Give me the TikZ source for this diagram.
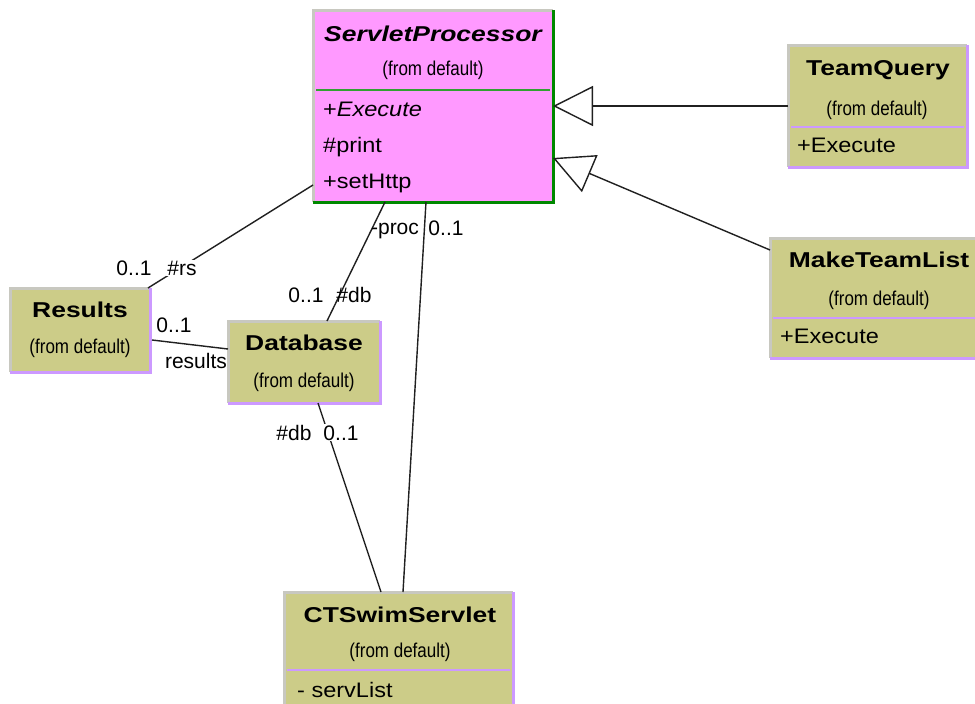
\documentclass[tikz,border=0pt]{standalone}
\usepackage{fontspec}
\setmainfont{Liberation Sans}
\newfontfamily\titlefont[FakeStretch=1.23]{Liberation Sans}
\newfontfamily\narrowfont[FakeStretch=0.85]{Liberation Sans}
\newfontfamily\attrfont[FakeStretch=1.12]{Liberation Sans}
\usetikzlibrary{arrows.meta}
\definecolor{khaki}{HTML}{CCCC88}
\definecolor{pinkfill}{HTML}{FF99FF}
\definecolor{edgegrey}{HTML}{C8C8C0}
\definecolor{edgeviolet}{HTML}{CC99FF}
\definecolor{edgegreen}{HTML}{008800}
\definecolor{linegrey}{HTML}{202020}
\begin{document}
\begin{tikzpicture}[x=1pt,y=-1pt,
  classbox/.style={draw=none,inner sep=0pt,outer sep=0pt,anchor=north west},
  titletext/.style={inner sep=0pt,anchor=base,font=\titlefont\bfseries\fontsize{21.5}{21.5}\selectfont},
  fromtext/.style={inner sep=0pt,anchor=base,font=\narrowfont\fontsize{20}{20}\selectfont},
  attrtext/.style={inner sep=0pt,anchor=base west,font=\attrfont\fontsize{21}{21}\selectfont},
  roletext/.style={inner sep=0pt,anchor=base,font=\fontsize{21}{21}\selectfont},
  rolemask/.style={roletext,fill=white,inner sep=1pt},
  litedge/.style={draw=edgegrey,line width=3pt},
  darkedge/.style={draw=edgeviolet,line width=3pt},
  greenedge/.style={draw=edgegreen,line width=3pt},
  sepviolet/.style={draw=edgeviolet,line width=2pt},
  sepgreen/.style={draw=edgegreen!80!white,line width=2pt},
  assoc/.style={draw=linegrey,line width=1.4pt},
  gen/.style={assoc,-{Triangle[open,length=40pt,width=40pt,line width=1.4pt]}}
]
\useasboundingbox (0,0) rectangle (975,704);
\clip (0,0) rectangle (975,704);
\fill[white] (0,0) rectangle (975,704);

% class boxes
\node[classbox,fill=pinkfill,minimum width=240pt,minimum height=192pt] (sp) at (313,10) {};
\node[classbox,fill=khaki,minimum width=179pt,minimum height=122pt] (tq) at (788,45) {};
\node[classbox,fill=khaki,minimum width=230pt,minimum height=120pt] (mtl) at (770,238) {};
\node[classbox,fill=khaki,minimum width=140pt,minimum height=84pt] (res) at (10,288) {};
\node[classbox,fill=khaki,minimum width=152pt,minimum height=82pt] (db) at (228,321) {};
\node[classbox,fill=khaki,minimum width=229pt,minimum height=148pt] (cts) at (284,592) {};

% raised borders: light on top/left, dark on bottom/right
\foreach \b in {tq,mtl,res,db,cts}{
  \draw[litedge] (\b.south west) -- (\b.north west) -- (\b.north east);
  \draw[darkedge] (\b.north east) -- (\b.south east) -- (\b.south west);
}
\draw[litedge] (sp.south west) -- (sp.north west) -- (sp.north east);
\draw[greenedge] (sp.north east) -- (sp.south east) -- (sp.south west);

% compartment separators
\draw[sepgreen] ([xshift=3pt]sp.west |- 0,90) -- ([xshift=-3pt]sp.east |- 0,90);
\draw[sepviolet] ([xshift=3pt]tq.west |- 0,127) -- ([xshift=-3pt]tq.east |- 0,127);
\draw[sepviolet] ([xshift=3pt]mtl.west |- 0,318) -- (mtl.east |- 0,318);
\draw[sepviolet] ([xshift=3pt]cts.west |- 0,670) -- ([xshift=-3pt]cts.east |- 0,670);

% class texts
\node[titletext] (spT) at (433,41) {\itshape ServletProcessor};
\node[fromtext] (spF) at (433,75) {(from default)};
\node[attrtext] (spA1) at (323,116) {+\itshape Execute};
\node[attrtext] (spA2) at (323,152) {\#print};
\node[attrtext] (spA3) at (323,188) {+setHttp};

\node[titletext] (tqT) at (878,75) {TeamQuery};
\node[fromtext] (tqF) at (877,115) {(from default)};
\node[attrtext] (tqA1) at (797,152) {+Execute};

\node[titletext] (mtlT) at (879,267) {MakeTeamList};
\node[fromtext] (mtlF) at (879,305) {(from default)};
\node[attrtext] (mtlA1) at (780,343) {+Execute};

\node[titletext] (resT) at (80,317) {Results};
\node[fromtext] (resF) at (80,353) {(from default)};

\node[titletext] (dbT) at (304,350) {Database};
\node[fromtext] (dbF) at (304,387) {(from default)};

\node[titletext] (ctsT) at (400,622) {CTSwimServlet};
\node[fromtext] (ctsF) at (400,657) {(from default)};
\node[attrtext] (ctsA1) at (297,697) {- servList};

% connector end points
\coordinate (mtlOut) at (770,250);
\coordinate (spGen) at (553,158);
\coordinate (spRes) at (313,185);
\coordinate (resSp) at (148,288);
\coordinate (spDb) at (385,202);
\coordinate (dbSp) at (327,321);
\coordinate (spCts) at (426,202);
\coordinate (ctsSp) at (403,592);
\coordinate (dbCts) at (318,403);
\coordinate (ctsDb) at (381,592);
\coordinate (resDb) at (152,340);
\coordinate (dbRes) at (228,349);

% generalizations
\draw[gen] (tq.west) -- (sp.east |- tq.west);
\draw[gen] (mtlOut) -- (spGen);

% associations
\draw[assoc] (spRes) -- (resSp);
\draw[assoc] (spDb) -- (dbSp);
\draw[assoc] (spCts) -- (ctsSp);
\draw[assoc] (dbCts) -- (ctsDb);
\draw[assoc] (resDb) -- (dbRes);

% role names and multiplicities
\node[roletext] (m1) at (134,275) {0..1};
\node[rolemask] (r1) at (182,275) {\#rs};
\node[roletext] (m2) at (306,302) {0..1};
\node[roletext] (r2) at (354,302) {\#db};
\node[roletext] (m3) at (174,332) {0..1};
\node[roletext] (r3) at (196,368) {results};
\node[roletext] (r4) at (395,234) {-proc};
\node[roletext] (m4) at (446,235) {0..1};
\node[roletext] (r5) at (294,440) {\#db};
\node[rolemask] (m5) at (341,440) {0..1};
\end{tikzpicture}
\end{document}
